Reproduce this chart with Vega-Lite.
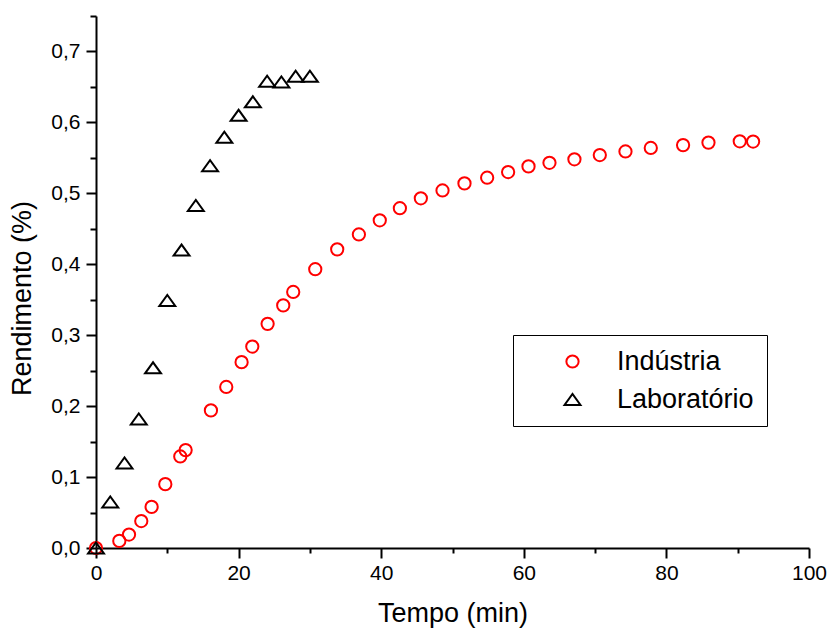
{
  "$schema": "https://vega.github.io/schema/vega-lite/v6.json",
  "width": 713,
  "height": 532,
  "autosize": "none",
  "padding": {"left": 96, "top": 16, "right": 20, "bottom": 80},
  "background": "white",
  "config": {
    "view": {"stroke": null},
    "font": "Liberation Sans",
    "axis": {
      "domainColor": "black",
      "domainWidth": 2,
      "tickColor": "black",
      "tickWidth": 2,
      "labelColor": "black",
      "labelFont": "Liberation Sans",
      "labelFontSize": 21,
      "labelFlush": false,
      "labelOverlap": false,
      "titleFont": "Liberation Sans",
      "titleFontSize": 27,
      "titleFontWeight": "normal",
      "titleColor": "black",
      "grid": false
    }
  },
  "data": {
    "values": [
      {"t": 0, "r": 0.0, "serie": "Indústria"},
      {"t": 3.27, "r": 0.010, "serie": "Indústria"},
      {"t": 4.63, "r": 0.019, "serie": "Indústria"},
      {"t": 6.35, "r": 0.038, "serie": "Indústria"},
      {"t": 7.8, "r": 0.058, "serie": "Indústria"},
      {"t": 9.72, "r": 0.090, "serie": "Indústria"},
      {"t": 11.82, "r": 0.129, "serie": "Indústria"},
      {"t": 12.57, "r": 0.138, "serie": "Indústria"},
      {"t": 16.12, "r": 0.194, "serie": "Indústria"},
      {"t": 18.27, "r": 0.227, "serie": "Indústria"},
      {"t": 20.42, "r": 0.262, "serie": "Indústria"},
      {"t": 21.92, "r": 0.284, "serie": "Indústria"},
      {"t": 24.07, "r": 0.316, "serie": "Indústria"},
      {"t": 26.26, "r": 0.342, "serie": "Indústria"},
      {"t": 27.66, "r": 0.361, "serie": "Indústria"},
      {"t": 30.75, "r": 0.393, "serie": "Indústria"},
      {"t": 33.83, "r": 0.421, "serie": "Indústria"},
      {"t": 36.87, "r": 0.442, "serie": "Indústria"},
      {"t": 39.8, "r": 0.462, "serie": "Indústria"},
      {"t": 42.62, "r": 0.479, "serie": "Indústria"},
      {"t": 45.56, "r": 0.493, "serie": "Indústria"},
      {"t": 48.6, "r": 0.504, "serie": "Indústria"},
      {"t": 51.68, "r": 0.514, "serie": "Indústria"},
      {"t": 54.86, "r": 0.522, "serie": "Indústria"},
      {"t": 57.8, "r": 0.530, "serie": "Indústria"},
      {"t": 60.66, "r": 0.538, "serie": "Indústria"},
      {"t": 63.6, "r": 0.543, "serie": "Indústria"},
      {"t": 67.1, "r": 0.548, "serie": "Indústria"},
      {"t": 70.66, "r": 0.554, "serie": "Indústria"},
      {"t": 74.26, "r": 0.559, "serie": "Indústria"},
      {"t": 77.81, "r": 0.564, "serie": "Indústria"},
      {"t": 82.34, "r": 0.568, "serie": "Indústria"},
      {"t": 85.9, "r": 0.5715, "serie": "Indústria"},
      {"t": 90.29, "r": 0.5734, "serie": "Indústria"},
      {"t": 92.16, "r": 0.573, "serie": "Indústria"},
      {"t": 0, "r": 0.0, "serie": "Laboratório"},
      {"t": 2, "r": 0.065, "serie": "Laboratório"},
      {"t": 4, "r": 0.120, "serie": "Laboratório"},
      {"t": 6, "r": 0.182, "serie": "Laboratório"},
      {"t": 8, "r": 0.254, "serie": "Laboratório"},
      {"t": 10, "r": 0.349, "serie": "Laboratório"},
      {"t": 12, "r": 0.420, "serie": "Laboratório"},
      {"t": 14, "r": 0.483, "serie": "Laboratório"},
      {"t": 16, "r": 0.539, "serie": "Laboratório"},
      {"t": 18, "r": 0.579, "serie": "Laboratório"},
      {"t": 20, "r": 0.610, "serie": "Laboratório"},
      {"t": 22, "r": 0.629, "serie": "Laboratório"},
      {"t": 24, "r": 0.658, "serie": "Laboratório"},
      {"t": 26, "r": 0.657, "serie": "Laboratório"},
      {"t": 28, "r": 0.665, "serie": "Laboratório"},
      {"t": 30, "r": 0.665, "serie": "Laboratório"}
    ]
  },
  "layer": [
    {
      "mark": {"type": "point", "opacity": 0, "size": 1},
      "encoding": {
        "x": {
          "field": "t",
          "type": "quantitative",
          "scale": {"domain": [0, 100], "nice": false, "zero": false},
          "axis": {
            "orient": "bottom",
            "title": null,
            "domain": false,
            "labels": false,
            "values": [10, 30, 50, 70, 90],
            "tickSize": 5
          }
        },
        "y": {
          "field": "r",
          "type": "quantitative",
          "scale": {"domain": [0, 0.75], "nice": false},
          "axis": {
            "orient": "left",
            "title": null,
            "domain": false,
            "labels": false,
            "values": [0.05, 0.15, 0.25, 0.35, 0.45, 0.55, 0.65, 0.75],
            "tickSize": 6
          }
        }
      }
    },
    {
      "mark": {"type": "point", "filled": false, "strokeWidth": 2, "size": 150, "opacity": 1},
      "encoding": {
        "x": {
          "field": "t",
          "type": "quantitative",
          "axis": {
            "orient": "bottom",
            "title": "Tempo (min)",
            "values": [0, 20, 40, 60, 80, 100],
            "tickSize": 10,
            "labelPadding": 4,
            "titlePadding": 17
          }
        },
        "y": {
          "field": "r",
          "type": "quantitative",
          "axis": {
            "orient": "left",
            "title": "Rendimento (%)",
            "titleY": 282,
            "values": [0, 0.1, 0.2, 0.3, 0.4, 0.5, 0.6, 0.7],
            "format": ".1f",
            "labelExpr": "replace(datum.label, '.', ',')",
            "tickSize": 10,
            "labelPadding": 6,
            "titlePadding": 14
          }
        },
        "color": {
          "field": "serie",
          "type": "nominal",
          "scale": {"domain": ["Indústria", "Laboratório"], "range": ["#ff0000", "#000000"]},
          "legend": {
            "title": null,
            "orient": "none",
            "legendX": 417,
            "legendY": 319,
            "strokeColor": "black",
            "padding": 13,
            "labelFont": "Liberation Sans",
            "labelFontSize": 27,
            "labelColor": "black",
            "symbolSize": 150,
            "symbolStrokeWidth": 2,
            "symbolOffset": 33,
            "labelOffset": 31,
            "rowPadding": 10
          }
        },
        "shape": {
          "field": "serie",
          "type": "nominal",
          "scale": {"domain": ["Indústria", "Laboratório"], "range": ["circle", "M-1.3,0.9L1.3,0.9L0,-0.9Z"]}
        }
      }
    }
  ],
  "resolve": {"axis": {"x": "independent", "y": "independent"}}
}
